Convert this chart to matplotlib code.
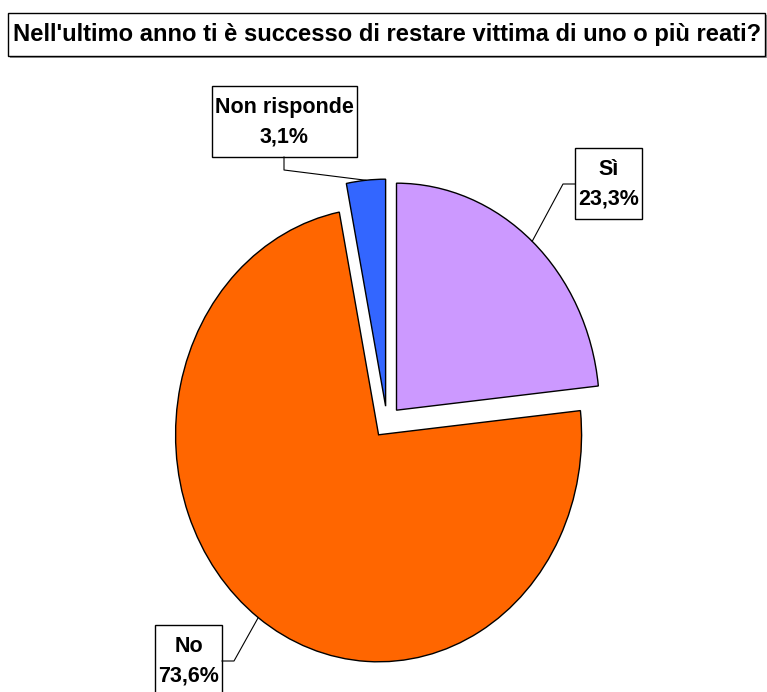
import matplotlib
matplotlib.use('Agg')
import matplotlib.pyplot as plt
import matplotlib.patches as patches
import numpy as np

# --------------------------------------------------------------------------
# Data
# --------------------------------------------------------------------------
title = "Nell'ultimo anno ti è successo di restare vittima di uno o più reati?"
labels = ['Sì', 'No', 'Non risponde']
values = [23.3, 73.6, 3.1]
colors = ['#CC99FF', '#FF6600', '#3366FF']

# --------------------------------------------------------------------------
# Layout (pixels, top-left origin)
# --------------------------------------------------------------------------
W, H = 767, 692
cx, cy, rx, ry = 387, 422, 203, 227       # pie centre and radii
box_layout = [(575, 148, 67, 71), (155, 625, 67, 71), (212, 86, 145, 71)]
leader_start = [(575, 184), (222, 661), (284, 157)]
leader_elbow = [(563, 184), (234, 661), (284, 170)]

plt.rcParams['font.family'] = ['Liberation Sans', 'DejaVu Sans']
plt.rcParams['font.weight'] = 'bold'


def fpx(x, y):
    return x / W, 1 - y / H


fig = plt.figure(figsize=(W / 100, H / 100), dpi=100)
ax = fig.add_axes([0, 0, 1, 1])

wedges, _ = ax.pie(values, colors=colors, startangle=90, counterclock=False,
                   explode=[0.07] * 3,
                   wedgeprops=dict(edgecolor='black', linewidth=1))
ax.set_aspect('auto')
ax.set_xlim(-cx / rx, (W - cx) / rx)
ax.set_ylim(-(H - cy) / ry, cy / ry)
ax.axis('off')

# title box (with a little shadow)
ax.add_patch(patches.Rectangle(fpx(10, 58), 757 / W, 43 / H, transform=ax.transAxes,
                               facecolor='#999999', edgecolor='none', clip_on=False))
ax.add_patch(patches.Rectangle(fpx(8, 56), 757 / W, 43 / H, transform=ax.transAxes,
                               facecolor='white', edgecolor='black', lw=1, clip_on=False))
ax.text(*fpx(387, 35), title, transform=ax.transAxes, ha='center', va='center',
        fontsize=17.1, fontweight='bold')

# labels with leader lines
for w, lab, val, box, st, el in zip(wedges, labels, values, box_layout,
                                    leader_start, leader_elbow):
    mid = np.deg2rad((w.theta1 + w.theta2) / 2)
    anchor = (w.center[0] + w.r * np.cos(mid), w.center[1] + w.r * np.sin(mid))
    axx, axy = ax.transLimits.transform(anchor)
    sx, sy = fpx(*st)
    ex, ey = fpx(*el)
    ax.plot([sx, ex, axx], [sy, ey, axy], transform=ax.transAxes,
            color='black', lw=0.8, clip_on=False)

    left, top, bw, bh = box
    ax.add_patch(patches.Rectangle(fpx(left, top + bh), bw / W, bh / H,
                                   transform=ax.transAxes, facecolor='white',
                                   edgecolor='black', lw=1, clip_on=False))
    txt = f"{lab}\n{val:.1f}%".replace('.', ',')
    ax.text(*fpx(left + bw / 2, top + bh / 2 + 1), txt, transform=ax.transAxes,
            ha='center', va='center', fontsize=15.5, fontweight='bold',
            linespacing=1.55)

fig.savefig('out.png', dpi=100)
